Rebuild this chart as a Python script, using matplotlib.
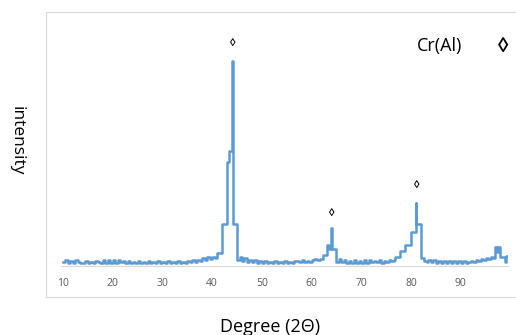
import matplotlib
matplotlib.use('Agg')
import matplotlib.pyplot as plt
from matplotlib.patches import Rectangle

plt.rcParams['font.family'] = ['Open Sans', 'DejaVu Sans']

# XRD pattern (degree 2theta, intensity in arbitrary units)
# each value holds until the next degree value (step line)
degree = [
    10, 10.5, 11, 11.5, 12, 12.5, 13, 13.5, 14, 14.5, 15, 15.5, 16, 16.5, 17, 17.5,
    18, 18.5, 19, 19.5, 20, 20.5, 21, 21.5, 22, 22.5, 23, 23.5, 24, 24.5, 25, 25.5,
    26, 26.5, 27, 27.5, 28, 28.5, 29, 29.5, 30, 30.5, 31, 31.5, 32, 32.5, 33, 33.5,
    34, 34.5, 35, 35.5, 36, 36.5, 37, 37.5, 38, 38.5, 39, 39.5, 40, 40.5, 41,
    41.9, 42.9, 43.4, 43.9, 44.0, 44.1, 45.0, 45.5,
    46, 46.5, 47, 47.5, 48, 48.5, 49, 49.5, 50, 50.5, 51, 51.5, 52, 52.5, 53, 53.5,
    54, 54.5, 55, 55.5, 56, 56.5, 57, 57.5, 58, 58.5, 59, 59.5, 60, 60.5, 61, 61.7,
    62.3, 63.0, 63.5, 64.0, 64.1, 65.0, 65.5,
    66, 66.5, 67, 67.5, 68, 68.5, 69, 69.5, 70, 70.5, 71, 71.5, 72, 72.5, 73, 73.5,
    74, 74.5, 75, 75.5, 76, 76.5, 76.8, 77.8, 78.8, 79.9, 80.9, 81.0, 82.1, 82.7,
    83.2, 83.5, 84, 84.5, 85, 85.5, 86, 86.5, 87, 87.5, 88, 88.5, 89,
    89.5, 90, 90.5, 91, 91.5, 92, 92.5, 93, 93.5, 94, 94.5, 95, 95.5, 96, 96.5,
    96.8, 97.3, 97.5, 97.9, 98.9, 99.1, 99.4,
]
intensity = [
    4, 6, 3, 5, 3, 6, 4, 3, 3, 5, 3, 4, 3, 5, 4, 3,
    6, 3, 6, 3, 6, 3, 6, 4, 5, 3, 5, 3, 4, 3, 5, 3,
    4, 3, 5, 3, 4, 3, 5, 3, 4, 3, 5, 3, 4, 3, 5, 3,
    4, 3, 5, 4, 6, 4, 6, 5, 8, 6, 9, 7, 9, 8, 13,
    42, 104, 115, 124, 205, 42, 6, 9,
    5, 8, 4, 6, 4, 6, 3, 5, 3, 5, 3, 4, 3, 5, 3, 4,
    3, 5, 3, 4, 3, 5, 5, 4, 6, 4, 5, 4, 6, 7, 6, 7,
    11, 21, 17, 38, 17, 4, 7,
    4, 6, 3, 5, 3, 6, 3, 5, 3, 6, 3, 6, 4, 5, 4, 6,
    3, 5, 4, 6, 5, 6, 9, 15, 21, 34, 63, 42, 8, 5,
    4, 6, 4, 6, 3, 5, 3, 5, 3, 5, 3, 5, 3,
    5, 3, 5, 3, 4, 5, 4, 6, 5, 7, 6, 8, 7, 9, 8,
    19, 14, 19, 9, 4, 10, 10,
]

# peak markers (position, height of the symbol)
marker_deg = [44.05, 64.0, 81.1]
marker_int = [223, 53, 81]

W, H = 516, 335
fig = plt.figure(figsize=(W / 100, H / 100), dpi=100)

# chart area border
fig.patches.append(Rectangle((46 / W, 1 - 297 / H), 1, (297 - 12) / H,
                             transform=fig.transFigure, fill=False,
                             edgecolor='#d9d9d9', linewidth=0.8))

ax = fig.add_axes([60.5 / W, 1 - 266 / H, (508 - 60.5) / W, 250 / H])
ax.plot(degree, intensity, color='#5b9bd5', linewidth=1.8, drawstyle='steps-post')

for d, v in zip(marker_deg, marker_int):
    ax.text(d, v, '\u25ca', ha='center', va='center', fontsize=8,
            fontweight='bold', family=['Liberation Sans', 'DejaVu Sans'])

ax.set_xlim(9.5, 99.5)
ax.set_ylim(0, 250)
ax.set_xticks([10, 20, 30, 40, 50, 60, 70, 80, 90])
ax.set_yticks([])
ax.tick_params(axis='x', length=0, pad=9, labelsize=7.5, labelcolor='#595959')
for s in ['top', 'right', 'left']:
    ax.spines[s].set_visible(False)
ax.spines['bottom'].set_color('#d9d9d9')
ax.spines['bottom'].set_linewidth(0.8)
ax.patch.set_alpha(0)

fig.text(440 / W, 1 - 46 / H, 'Cr(Al)', ha='center', va='center', fontsize=13)
fig.text(503 / W, 1 - 46 / H, '\u25ca', ha='center', va='center', fontsize=15,
         fontweight='bold', family=['Liberation Sans', 'DejaVu Sans'])

fig.text(17 / W, 1 - 141 / H, 'intensity', rotation=-90, ha='center', va='center',
         fontsize=12.5)
fig.text(270 / W, 1 - 327 / H, 'Degree (2\u0398)', ha='center', va='center', fontsize=13)

fig.savefig('out.png', dpi=100)
